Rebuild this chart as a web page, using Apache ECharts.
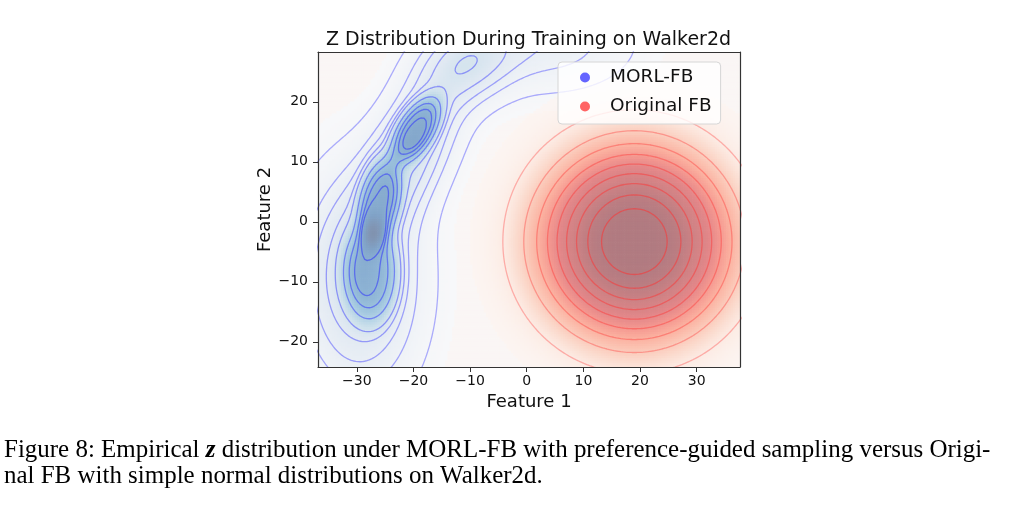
<!DOCTYPE html>
<html>
<head>
<meta charset="utf-8">
<script src="https://cdn.jsdelivr.net/npm/echarts@6/dist/echarts.min.js"></script>
<style>
html, body { margin: 0; padding: 0; background: #fff; }
#chart { width: 1012px; height: 519px; }
</style>
</head>
<body>
<div id="chart"></div>
<script>
'use strict';
// axes
const xTicks = [-30, -20, -10, 0, 10, 20, 30];
const yTicks = [-20, -10, 0, 10, 20];
const xRange = [-36.85, 37.65];
const yRange = [-24.2, 28.3];
// iso-proportion contour levels (share of mass below the line)
const levelProps = [0.05, 0.156, 0.261, 0.367, 0.472, 0.578, 0.683, 0.789, 0.894];

// MORL-FB density, read as a few blobs: centre, spread along / across, angle, mass, shape
const morlCx = [-27.5, -26, -19.5, -29.5, -21, -10, 4];
const morlCy = [-8.5, 3.5, 15.5, -10, 11, 26.5, 30];
const morlSa = [8.5, 7.5, 6.5, 11, 10, 6, 9];
const morlSb = [5, 3.8, 3.4, 6.5, 4.2, 4.2, 5];
const morlAng = [90, 80, 55, 90, 62, 25, 0];
const morlW = [0.11, 0.08, 0.07, 0.3, 0.17, 0.08, 0.08];
const morlK = [4, 4, 4, 2, 2, 2, 2];

// Original FB density: one flat-topped blob
const origCx = [19];
const origCy = [-3.3];
const origSa = [18.8];
const origSb = [17.8];
const origAng = [0];
const origW = [1];
const origK = [3.5];

const blues = [[247,251,255],[222,235,247],[198,219,239],[158,202,225],[107,174,214],[66,146,198],[33,113,181],[8,81,156],[8,48,107]];
const reds = [[255,245,240],[254,224,210],[252,187,161],[252,146,114],[251,106,74],[239,59,44],[203,24,29],[165,15,21],[103,0,13]];
const plotBg = [250, 246, 245];
const fillAlpha = 0.5;

// density grid
const STEP = 0.4, GX0 = -75, GY0 = -60, NX = 338, NY = 301;

function buildField(cx, cy, sa, sb, ang, w, kk) {
  const f = new Float64Array(NX * NY);
  for (let c = 0; c < cx.length; c++) {
    const th = ang[c] * Math.PI / 180, co = Math.cos(th), si = Math.sin(th);
    const tmp = new Float64Array(NX * NY);
    let s = 0;
    for (let j = 0; j < NY; j++) {
      const y = GY0 + j * STEP - cy[c];
      for (let i = 0; i < NX; i++) {
        const x = GX0 + i * STEP - cx[c];
        const u = (x * co + y * si) / sa[c], v = (-x * si + y * co) / sb[c];
        const r2 = u * u + v * v;
        const val = kk[c] === 2 ? Math.exp(-r2 / 2) : Math.exp(-Math.pow(r2, kk[c] / 2));
        tmp[j * NX + i] = val;
        s += val;
      }
    }
    for (let n = 0; n < tmp.length; n++) f[n] += w[c] * tmp[n] / s;
  }
  return f;
}

// same idea as seaborn: density value that leaves q of the mass below it
function isoLevels(f, props) {
  const sorted = Float64Array.from(f).sort().reverse();
  let total = 0;
  for (let n = 0; n < sorted.length; n++) total += sorted[n];
  const cums = new Float64Array(sorted.length);
  let cum = 0;
  for (let n = 0; n < sorted.length; n++) { cum += sorted[n]; cums[n] = cum / total; }
  return props.map(q => {
    let lo = 0, hi = sorted.length - 1;
    while (lo < hi) {
      const mid = (lo + hi) >> 1;
      if (cums[mid] < 1 - q) lo = mid + 1; else hi = mid;
    }
    return sorted[lo];
  });
}

function maxOf(f) { let m = 0; for (let n = 0; n < f.length; n++) if (f[n] > m) m = f[n]; return m; }

const iMin = Math.floor((xRange[0] - 1 - GX0) / STEP), iMax = Math.ceil((xRange[1] + 1 - GX0) / STEP);
const jMin = Math.floor((yRange[0] - 1 - GY0) / STEP), jMax = Math.ceil((yRange[1] + 1 - GY0) / STEP);

// marching squares, segments split by NaN rows so one series is one stroke
function contourData(f, L) {
  const out = [];
  const seg = (a, b) => { out.push(a, b, [NaN, NaN]); };
  for (let j = jMin; j < jMax; j++) {
    for (let i = iMin; i < iMax; i++) {
      const v0 = f[j * NX + i], v1 = f[j * NX + i + 1], v2 = f[(j + 1) * NX + i + 1], v3 = f[(j + 1) * NX + i];
      const idx = (v0 >= L ? 1 : 0) | (v1 >= L ? 2 : 0) | (v2 >= L ? 4 : 0) | (v3 >= L ? 8 : 0);
      if (idx === 0 || idx === 15) continue;
      const x = GX0 + i * STEP, y = GY0 + j * STEP;
      const e0 = () => [x + (L - v0) / (v1 - v0) * STEP, y];
      const e1 = () => [x + STEP, y + (L - v1) / (v2 - v1) * STEP];
      const e2 = () => [x + (L - v3) / (v2 - v3) * STEP, y + STEP];
      const e3 = () => [x, y + (L - v0) / (v3 - v0) * STEP];
      const mid = (v0 + v1 + v2 + v3) / 4;
      switch (idx) {
        case 1: case 14: seg(e3(), e0()); break;
        case 2: case 13: seg(e0(), e1()); break;
        case 3: case 12: seg(e3(), e1()); break;
        case 4: case 11: seg(e1(), e2()); break;
        case 6: case 9: seg(e0(), e2()); break;
        case 7: case 8: seg(e3(), e2()); break;
        case 5:
          if (mid >= L) { seg(e0(), e1()); seg(e2(), e3()); } else { seg(e3(), e0()); seg(e1(), e2()); }
          break;
        case 10:
          if (mid >= L) { seg(e3(), e0()); seg(e1(), e2()); } else { seg(e0(), e1()); seg(e2(), e3()); }
          break;
      }
    }
  }
  return out;
}

const fB = buildField(morlCx, morlCy, morlSa, morlSb, morlAng, morlW, morlK);
const fR = buildField(origCx, origCy, origSa, origSb, origAng, origW, origK);
const maxB = maxOf(fB), maxR = maxOf(fR);
const levB = isoLevels(fB, levelProps);
const levR = isoLevels(fR, levelProps);

function cmap(anchors, t) {
  t = Math.max(0, Math.min(1, t)) * (anchors.length - 1);
  const k = Math.min(anchors.length - 2, Math.floor(t)), r = t - k;
  return anchors[k].map((c, n) => c + (anchors[k + 1][n] - c) * r);
}
function blend(base, top, a) { return base.map((c, n) => c * (1 - a) + top[n] * a); }
function cellColor(dB, dR) {
  let c = plotBg;
  const tB = dB / maxB, tR = dR / maxR;
  if (tB > 0.01) c = blend(c, cmap(blues, tB), fillAlpha);
  if (tR > 0.01) c = blend(c, cmap(reds, tR), fillAlpha);
  return 'rgb(' + c.map(Math.round).join(',') + ')';
}

const cells = [];
for (let j = jMin; j <= jMax; j++) {
  for (let i = iMin; i <= iMax; i++) {
    const x = GX0 + i * STEP, y = GY0 + j * STEP;
    if (x + STEP / 2 <= xRange[0] || x - STEP / 2 >= xRange[1]) continue;
    if (y + STEP / 2 <= yRange[0] || y - STEP / 2 >= yRange[1]) continue;
    cells.push([x, y, fB[j * NX + i], fR[j * NX + i]]);
  }
}

const series = [{
  type: 'custom',
  silent: true,
  progressive: 0,
  data: cells,
  z: 1,
  renderItem: function (params, api) {
    const x = api.value(0), y = api.value(1);
    const x0 = Math.max(xRange[0], x - STEP / 2), x1 = Math.min(xRange[1], x + STEP / 2);
    const y0 = Math.max(yRange[0], y - STEP / 2), y1 = Math.min(yRange[1], y + STEP / 2);
    const p0 = api.coord([x0, y1]);
    const p1 = api.coord([x1, y0]);
    const ex = x1 < xRange[1] ? 0.7 : 0, ey = y0 > yRange[0] ? 0.7 : 0;
    return {
      type: 'rect',
      shape: { x: p0[0], y: p0[1], width: p1[0] - p0[0] + ex, height: p1[1] - p0[1] + ey },
      style: { fill: cellColor(api.value(2), api.value(3)) }
    };
  }
}];

levB.forEach((L, k) => {
  series.push({
    name: 'MORL-FB', type: 'line', silent: true, showSymbol: false, z: 3,
    data: contourData(fB, L),
    lineStyle: { color: 'rgba(40,40,255,' + (0.36 + 0.16 * k / 8).toFixed(3) + ')', width: 1.3, cap: 'round' }
  });
});
levR.forEach((L, k) => {
  series.push({
    name: 'Original FB', type: 'line', silent: true, showSymbol: false, z: 3,
    data: contourData(fR, L),
    lineStyle: { color: 'rgba(255,50,50,' + (0.34 + 0.2 * k / 8).toFixed(3) + ')', width: 1.3, cap: 'round' }
  });
});

const minus = v => String(v).replace('-', '\u2212');
const tickFont = { fontFamily: 'DejaVu Sans', fontSize: 14, color: '#111' };
const frameLine = { show: true, onZero: false, lineStyle: { color: '#333', width: 1.2 } };

const chart = echarts.init(document.getElementById('chart'), null, { renderer: 'canvas' });
chart.setOption({
  animation: false,
  backgroundColor: '#fff',
  grid: { left: 318, top: 52, width: 422, height: 315 },
  legend: {
    left: 558, top: 62,
    orient: 'vertical',
    itemWidth: 30, itemHeight: 10, itemGap: 10,
    padding: [6, 9, 8, 22],
    backgroundColor: 'rgba(255,255,255,0.8)',
    borderColor: '#d6d6d6', borderWidth: 1, borderRadius: 4,
    textStyle: { fontFamily: 'DejaVu Sans', fontSize: 18.5, color: '#111', padding: [0, 0, 0, 5] },
    data: [
      { name: 'MORL-FB', icon: 'circle', itemStyle: { color: 'rgb(100,100,255)' } },
      { name: 'Original FB', icon: 'circle', itemStyle: { color: 'rgb(255,100,100)' } }
    ]
  },
  xAxis: [{
    type: 'value', min: xRange[0], max: xRange[1], z: 10,
    name: 'Feature 1', nameLocation: 'middle', nameGap: 22,
    nameTextStyle: { fontFamily: 'DejaVu Sans', fontSize: 18, color: '#111' },
    axisLine: frameLine,
    axisTick: { show: true, length: 5, customValues: xTicks, lineStyle: { color: '#333' } },
    axisLabel: Object.assign({ customValues: xTicks, margin: 7, formatter: minus }, tickFont),
    splitLine: { show: false }
  }, {
    type: 'value', position: 'top', min: xRange[0], max: xRange[1], z: 10,
    axisLine: frameLine,
    axisTick: { show: false }, axisLabel: { show: false }, splitLine: { show: false }
  }],
  yAxis: [{
    type: 'value', min: yRange[0], max: yRange[1], z: 10,
    name: 'Feature 2', nameLocation: 'middle', nameGap: 42,
    nameTextStyle: { fontFamily: 'DejaVu Sans', fontSize: 18, color: '#111' },
    axisLine: frameLine,
    axisTick: { show: true, length: 5, customValues: yTicks, lineStyle: { color: '#333' } },
    axisLabel: Object.assign({ customValues: yTicks, margin: 10, formatter: minus }, tickFont),
    splitLine: { show: false }
  }, {
    type: 'value', position: 'right', min: yRange[0], max: yRange[1], z: 10,
    axisLine: frameLine,
    axisTick: { show: false }, axisLabel: { show: false }, splitLine: { show: false }
  }],
  graphic: [{
    type: 'text', left: 528 - 202, top: 31,
    style: { text: 'Z Distribution During Training on Walker2d', font: '19px "DejaVu Sans"', fill: '#111' }
  }, {
    type: 'text', left: 4, top: 437, scaleX: 0.96,
    style: {
      text: 'Figure 8: Empirical {it|z} distribution under MORL-FB with preference-guided sampling versus Origi-',
      font: '26px "Liberation Serif"', fill: '#000',
      rich: { it: { fontStyle: 'italic', fontWeight: 'bold', fontFamily: 'Liberation Serif', fontSize: 26 } }
    }
  }, {
    type: 'text', left: 4, top: 463, scaleX: 0.96,
    style: { text: 'nal FB with simple normal distributions on Walker2d.', font: '26px "Liberation Serif"', fill: '#000' }
  }],
  series: series
});
</script>
</body>
</html>
